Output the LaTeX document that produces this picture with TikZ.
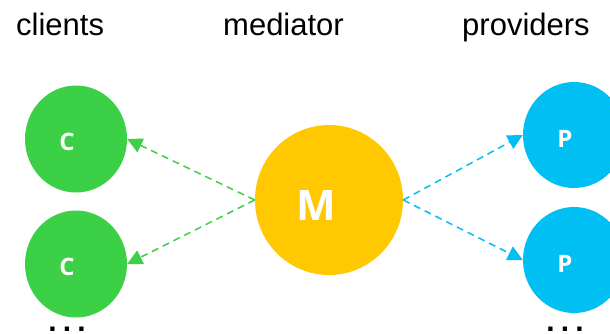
\documentclass[tikz,border=0pt]{standalone}
\usepackage{fontspec}
\setmainfont{Liberation Sans}
\newfontfamily\letterfont{Open Sans}
\usetikzlibrary{shapes.geometric,arrows.meta}
\definecolor{cgreen}{HTML}{3BD045}
\definecolor{cyellow}{HTML}{FFC800}
\definecolor{cblue}{HTML}{00BFF3}
\begin{document}
\begin{tikzpicture}[x=1pt,y=-1pt,
  blob/.style={ellipse,inner sep=0pt,draw=none},
  cnode/.style={blob,fill=cgreen,minimum width=102pt,minimum height=107pt},
  pnode/.style={blob,fill=cblue,minimum width=102pt,minimum height=106pt},
  mnode/.style={blob,fill=cyellow,minimum width=148pt,minimum height=150pt},
  title/.style={anchor=base west,inner sep=0pt,font=\fontsize{31pt}{36pt}\selectfont},
  letter/.style={anchor=base,inner sep=0pt,text=white,font=\letterfont\bfseries\fontsize{24pt}{28pt}\selectfont},
  bigletter/.style={letter,font=\letterfont\bfseries\fontsize{42pt}{48pt}\selectfont},
  dots/.style={anchor=base,inner sep=0pt,font=\bfseries\fontsize{30pt}{36pt}\selectfont},
  link/.style={line width=1.5pt,dash pattern=on 7pt off 5pt,-{Triangle[length=15pt,width=15pt]}},
]
\useasboundingbox (0,0) rectangle (610,333);
% titles
\node[title] (tc) at (16,35) {clients};
\node[title] (tm) at (223,35) {mediator};
\node[title] (tp) at (462,35) {providers};
% circles
\node[cnode] (c1) at (76,139) {};
\node[cnode] (c2) at (76,264) {};
\node[mnode] (m) at (329,200) {};
\node[pnode] (p1) at (574,135) {};
\node[pnode] (p2) at (574,260) {};
% letters
\node[letter] (lc1) at (67,150.5) {C};
\node[letter] (lc2) at (67,275.5) {C};
\node[letter] (lp1) at (565,147) {P};
\node[letter] (lp2) at (565,272) {P};
\node[bigletter] (lm) at (316.5,220) {M};
% connectors
\draw[link,cgreen] (m.west) -- (c1.east);
\draw[link,cgreen] (m.west) -- (c2.east);
\draw[link,cblue] (m.east) -- (p1.west);
\draw[link,cblue] (m.east) -- (p2.west);
% dots
\node[dots] (dl) at (67,331) {.\hspace{6.2pt}.\hspace{6.2pt}.};
\node[dots] (dr) at (565,331) {.\hspace{6.2pt}.\hspace{6.2pt}.};
\end{tikzpicture}
\end{document}
